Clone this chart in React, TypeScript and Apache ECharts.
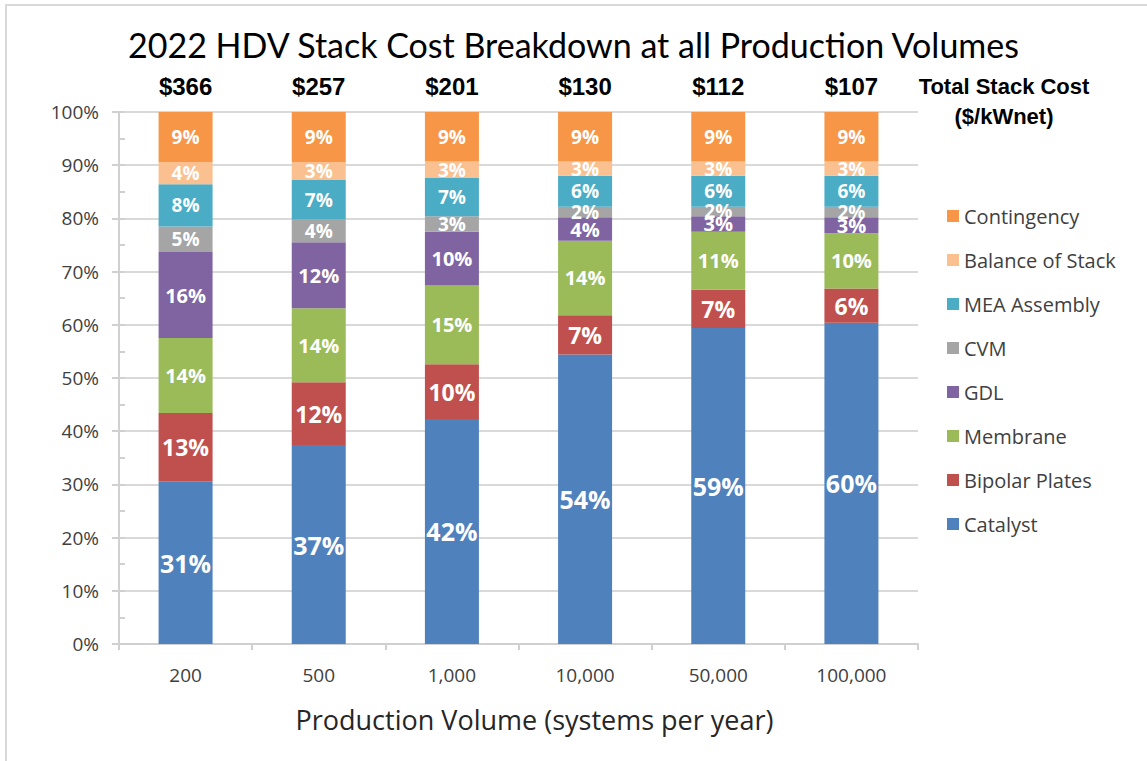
import React, { useEffect, useRef } from "react";
import * as echarts from "echarts";

const categories = ["200", "500", "1,000", "10,000", "50,000", "100,000"];
const totals = ["$366", "$257", "$201", "$130", "$112", "$107"];

const catalyst = [30.6, 37.4, 42.3, 54.4, 59.4, 60.4];
const bipolarPlates = [12.8, 11.8, 10.3, 7.4, 7.2, 6.4];
const membrane = [14.1, 13.9, 14.8, 14.0, 10.9, 10.4];
const gdl = [16.2, 12.4, 10.1, 4.4, 2.9, 3.0];
const cvm = [4.8, 4.4, 2.9, 2.0, 1.8, 2.0];
const meaAssembly = [7.9, 7.3, 7.2, 5.8, 5.8, 5.8];
const balanceOfStack = [4.2, 3.4, 3.1, 2.7, 2.7, 2.7];
const contingency = [9.4, 9.4, 9.3, 9.3, 9.3, 9.3];

const seriesDefs = [
  { name: "Catalyst", data: catalyst, color: "#4f81bd", size: 25 },
  { name: "Bipolar Plates", data: bipolarPlates, color: "#c0504d", size: 23 },
  { name: "Membrane", data: membrane, color: "#9bbb59", size: 20 },
  { name: "GDL", data: gdl, color: "#8064a2", size: 20 },
  { name: "CVM", data: cvm, color: "#a5a5a5", size: 19 },
  { name: "MEA Assembly", data: meaAssembly, color: "#4bacc6", size: 19 },
  { name: "Balance of Stack", data: balanceOfStack, color: "#fac090", size: 19 },
  { name: "Contingency", data: contingency, color: "#f79646", size: 19 },
];

const FONT = "'Open Sans', 'Noto Sans', sans-serif";

export default function App() {
  const ref = useRef<HTMLDivElement>(null);
  useEffect(() => {
    if (!ref.current) return;
    const chart = echarts.init(ref.current, undefined, { renderer: "svg" });
    chart.setOption({
      animation: false,
      backgroundColor: "#ffffff",
      title: {
        text: "2022 HDV Stack Cost Breakdown at all Production Volumes",
        left: "center",
        top: 22,
        textStyle: { fontFamily: "Lato, sans-serif", fontSize: 34, fontWeight: "normal", color: "#000" },
      },
      graphic: [
        {
          type: "rect",
          z: -10,
          shape: { x: 6, y: 5, width: 1300, height: 900 },
          style: { fill: "none", stroke: "#d9d9d9", lineWidth: 2 },
        },
        {
          type: "text",
          x: 1004,
          y: 71,
          style: {
            text: "Total Stack Cost\n($/kWnet)",
            textAlign: "center",
            font: "bold 22px 'Liberation Sans', Arial, sans-serif",
            lineHeight: 30,
            fill: "#000",
          },
        },
      ],
      legend: {
        orient: "vertical",
        left: 942,
        top: 201,
        itemWidth: 12,
        itemHeight: 12,
        itemGap: 24,
        icon: "rect",
        data: seriesDefs.map((s) => s.name).reverse(),
        textStyle: { fontFamily: FONT, fontSize: 20, color: "#404040" },
      },
      grid: { left: 119, right: 229, top: 112, bottom: 117 },
      xAxis: [
        {
          type: "category",
          data: categories,
          axisLine: { lineStyle: { color: "#d0d0d0", width: 2 } },
          axisTick: { show: true, length: 6, lineStyle: { color: "#d0d0d0", width: 2 } },
          axisLabel: { fontFamily: FONT, fontSize: 19, color: "#404040", margin: 21 },
          name: "Production Volume (systems per year)",
          nameLocation: "middle",
          nameGap: 62,
          nameTextStyle: { fontFamily: FONT, fontSize: 27, color: "#262626", padding: [0, 0, 0, 32] },
        },
        {
          type: "category",
          position: "top",
          data: totals,
          axisLine: { show: false },
          axisTick: { show: false },
          axisLabel: {
            fontFamily: "'Liberation Sans Narrow', 'Liberation Sans', Arial, sans-serif",
            fontWeight: "bold",
            fontSize: 24,
            color: "#000",
            margin: 14,
          },
        },
      ],
      yAxis: [
        {
          type: "value",
          min: 0,
          max: 100,
          interval: 10,
          axisLine: { show: true, lineStyle: { color: "#d0d0d0", width: 2 } },
          axisTick: { show: true, length: 7, lineStyle: { color: "#d0d0d0", width: 2 } },
          axisLabel: { formatter: "{value}%", fontFamily: FONT, fontSize: 19, color: "#404040", margin: 20 },
          splitLine: { lineStyle: { color: "#d9d9d9", width: 2 } },
        },
        {
          type: "value",
          min: 0,
          max: 100,
          interval: 5,
          position: "left",
          axisLine: { show: false },
          axisTick: { show: true, inside: true, length: 6, lineStyle: { color: "#d0d0d0", width: 2 } },
          axisLabel: { show: false },
          splitLine: { show: false },
        },
      ],
      series: seriesDefs.map((s) => ({
        name: s.name,
        type: "bar",
        stack: "total",
        barWidth: 54,
        data: s.data,
        itemStyle: { color: s.color },
        label: {
          show: true,
          position: "inside",
          formatter: (p: any) => Math.round(p.value) + "%",
          color: "#ffffff",
          fontFamily: FONT,
          fontWeight: "bold",
          fontSize: s.size,
        },
      })),
    });
    return () => chart.dispose();
  }, []);
  return (
    <div
      ref={ref}
      style={{ position: "fixed", left: 0, top: 0, width: 1147, height: 761 }}
    />
  );
}
